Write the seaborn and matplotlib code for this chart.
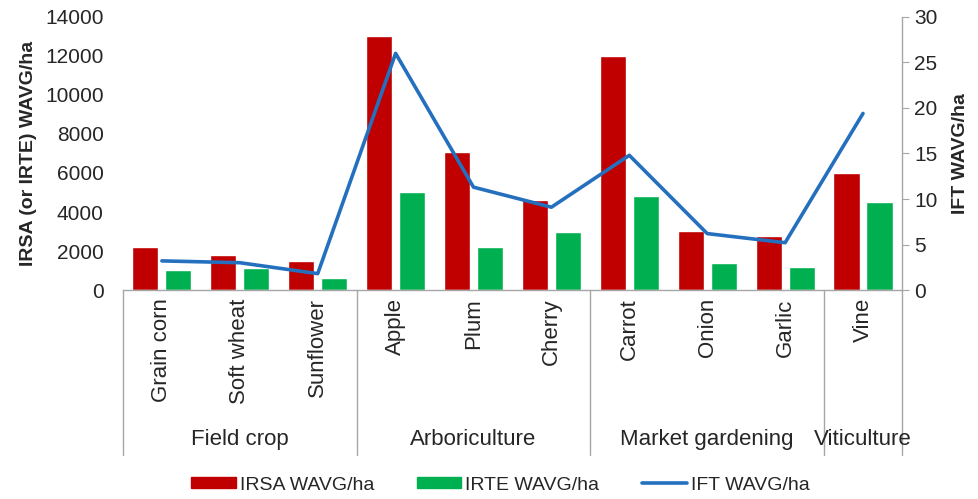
import numpy as np
import pandas as pd
import seaborn as sns
import matplotlib.pyplot as plt
import matplotlib.transforms as mtransforms
from matplotlib.patches import Patch
from matplotlib.lines import Line2D

# values
crops = ["Grain corn", "Soft wheat", "Sunflower", "Apple", "Plum", "Cherry",
         "Carrot", "Onion", "Garlic", "Vine"]
groups = ["Field crop", "Arboriculture", "Market gardening", "Viticulture"]
group_sizes = [3, 3, 3, 1]
irsa = [2200, 1800, 1500, 13000, 7100, 4600, 12000, 3050, 2750, 6000]
irte = [1050, 1130, 600, 5050, 2200, 3000, 4800, 1400, 1200, 4500]
ift = [3.2, 3.0, 1.8, 26.0, 11.3, 9.1, 14.8, 6.2, 5.2, 19.4]
series_names = ["IRSA WAVG/ha", "IRTE WAVG/ha", "IFT WAVG/ha"]

RED = "#C00000"
GREEN = "#00B050"
BLUE = "#2470BE"
GRAY = "#A6A6A6"
TXT = "#262626"

df = pd.DataFrame({
    "crop": crops * 2,
    "value": irsa + irte,
    "series": [series_names[0]] * len(crops) + [series_names[1]] * len(crops),
})

sns.set_style("white")
plt.rcParams["font.family"] = ["Liberation Sans", "DejaVu Sans"]
plt.rcParams["text.color"] = TXT

fig = plt.figure(figsize=(9.79, 4.99), dpi=100)
ax = fig.add_axes([0.1256, 0.4188, 0.7957, 0.5472])

sns.barplot(data=df, x="crop", y="value", hue="series", palette=[RED, GREEN],
            width=0.847, gap=0.21, saturation=1, legend=False, ax=ax)
ax.set_xlim(-0.5, len(crops) - 0.5)
ax.set_ylim(0, 14000)
ax.set_yticks(range(0, 14001, 2000))
ax.set_xticks([])
ax.set_xlabel("")
ax.set_ylabel("IRSA (or IRTE) WAVG/ha", fontsize=14, fontweight="bold", labelpad=6)
ax.tick_params(axis="y", length=0, pad=14, labelsize=15, labelcolor=TXT)
for s in ["top", "left", "right"]:
    ax.spines[s].set_visible(False)
ax.spines["bottom"].set_color(GRAY)
ax.spines["bottom"].set_linewidth(1)

ax2 = ax.twinx()
sns.lineplot(x=np.arange(len(crops)), y=ift, ax=ax2, color=BLUE, linewidth=2.6)
ax2.set_ylim(0, 30)
ax2.set_yticks(range(0, 31, 5))
ax2.set_ylabel("IFT WAVG/ha", fontsize=14, fontweight="bold", labelpad=10)
ax2.tick_params(axis="y", direction="out", length=5, color=GRAY, pad=4,
                labelsize=15, labelcolor=TXT)
for s in ["top", "left", "bottom"]:
    ax2.spines[s].set_visible(False)
ax2.spines["right"].set_color(GRAY)
ax2.spines["right"].set_linewidth(1)

# multi-level category axis
trans = mtransforms.blended_transform_factory(ax.transData, ax.transAxes)
for i, c in enumerate(crops):
    ax.text(i, -0.03, c, transform=trans, rotation=90, ha="center", va="top",
            fontsize=16)

bounds = [-0.5]
for n in group_sizes:
    bounds.append(bounds[-1] + n)
for b in bounds:
    ax.plot([b, b], [0, -0.604], transform=trans, clip_on=False,
            color=GRAY, linewidth=1)
for g, lo, hi in zip(groups, bounds[:-1], bounds[1:]):
    ax.text((lo + hi) / 2, -0.549, g, transform=trans, ha="center",
            va="center", fontsize=16)

handles = [Patch(color=RED), Patch(color=GREEN), Line2D([], [], color=BLUE, linewidth=2.6)]
fig.legend(handles, series_names, loc="center", bbox_to_anchor=(0.511, 1 - 485 / 499),
           ncol=3, frameon=False, fontsize=14, handlelength=2.3, handleheight=0.55,
           handletextpad=0.2, columnspacing=2.2)

fig.savefig("out.png", dpi=100)
